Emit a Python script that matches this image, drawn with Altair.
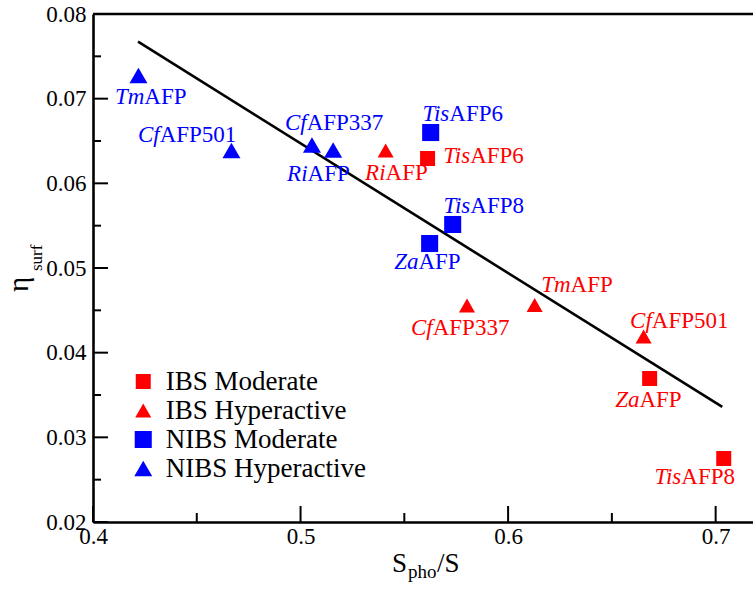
import altair as alt
import pandas as pd

# ---------------- data ----------------
series = ["NIBS Hyperactive", "NIBS Hyperactive", "NIBS Hyperactive", "NIBS Hyperactive",
          "NIBS Moderate", "NIBS Moderate", "NIBS Moderate",
          "IBS Hyperactive", "IBS Moderate", "IBS Hyperactive", "IBS Hyperactive",
          "IBS Hyperactive", "IBS Moderate", "IBS Moderate"]
s_pho = [0.4219, 0.4667, 0.5055, 0.5157, 0.5627, 0.5733, 0.5622,
         0.5410, 0.5612, 0.5802, 0.6128, 0.6653, 0.6682, 0.7039]
eta = [0.07274, 0.06388, 0.06453, 0.06394, 0.0660, 0.05514, 0.05289,
       0.06388, 0.06293, 0.04557, 0.04563, 0.04191, 0.03695, 0.02750]
name_italic = ["Tm", "Cf", "Cf", "Ri", "Tis", "Tis", "Za",
               "Ri", "Tis", "Cf", "Tm", "Cf", "Za", "Tis"]
name_roman = ["AFP", "AFP501", "AFP337", "AFP", "AFP6", "AFP8", "AFP",
              "AFP", "AFP6", "AFP337", "AFP", "AFP501", "AFP", "AFP8"]

fit_x = [0.4217, 0.7032]
fit_y = [0.07673, 0.03359]

x_ticks = [0.4, 0.5, 0.6, 0.7]
x_minor = [0.45, 0.55, 0.65]
y_ticks = [0.02, 0.03, 0.04, 0.05, 0.06, 0.07, 0.08]
y_minor = [0.025, 0.035, 0.045, 0.055, 0.065, 0.075]

legend_order = ["IBS Moderate", "IBS Hyperactive", "NIBS Moderate", "NIBS Hyperactive"]

# ---------------- style ----------------
FONT = "'Liberation Serif', 'Times New Roman', Times, serif"
RED = "#ff0000"
BLUE = "#0000ff"
W, H = 660, 508
LW = 2.6
# label placement: (dx of italic/roman split, dy of baseline) in pixels
label_offsets = [(5.9, 28.5), (-71.8, -8.5), (-5.3, -15), (-25.6, 31), (18.6, -11.8),
                 (17.6, -11.5), (-11.2, 25.5), (-0.1, 29.5), (42.6, 4.5), (-34.3, 29.5),
                 (35.9, -13), (8.2, -8.5), (-10.2, 28.5), (-42.4, 25.5)]

xscale = alt.Scale(domain=[0.4, 0.718], nice=False, zero=False)
yscale = alt.Scale(domain=[0.02, 0.08], nice=False, zero=False)
xaxis = alt.Axis(values=x_ticks, format=".1f", title=None, ticks=False, grid=False,
                 labelFont=FONT, labelFontSize=23, labelColor="black", labelPadding=3,
                 domainColor="black", domainWidth=LW, labelFlush=False, labelOverlap=False)
yaxis = alt.Axis(values=y_ticks, format=".2f", title=None, ticks=False, grid=False,
                 labelFont=FONT, labelFontSize=23, labelColor="black", labelPadding=7,
                 domainColor="black", domainWidth=LW, labelFlush=False, labelOverlap=False)


def X(f):
    return alt.X(f, type="quantitative", scale=xscale, axis=xaxis)


def Y(f):
    return alt.Y(f, type="quantitative", scale=yscale, axis=yaxis)


pts = pd.DataFrame({"x": s_pho, "y": eta, "series": series})

leg = alt.Legend(title=None, orient="none", legendX=36.75, legendY=354,
                 padding=0, rowPadding=1, labelOffset=9,
                 labelFont=FONT, labelFontSize=27, labelColor="black",
                 symbolSize=240, symbolStrokeWidth=0, labelLimit=400)

points = alt.Chart(pts).mark_point(filled=True, opacity=1, strokeWidth=0).encode(
    x=X("x"), y=Y("y"),
    color=alt.Color("series:N", scale=alt.Scale(domain=legend_order, range=[RED, RED, BLUE, BLUE]),
                    legend=leg),
    shape=alt.Shape("series:N", scale=alt.Scale(domain=legend_order,
                                                range=["square", "triangle-up", "square", "triangle-up"]),
                    legend=leg),
    size=alt.Size("series:N", scale=alt.Scale(domain=legend_order, range=[225, 324, 225, 324]),
                  legend=None),
)

fit = alt.Chart(pd.DataFrame({"x": fit_x, "y": fit_y})).mark_line(
    color="black", strokeWidth=LW).encode(x=X("x"), y=Y("y"))

# inward ticks
xt_major = alt.Chart(pd.DataFrame({"v": x_ticks})).mark_rule(color="black", strokeWidth=2).encode(
    x=X("v"), y=alt.value(H), y2=alt.value(H - 16))
xt_minor = alt.Chart(pd.DataFrame({"v": x_minor})).mark_rule(color="black", strokeWidth=2).encode(
    x=X("v"), y=alt.value(H), y2=alt.value(H - 9))
yt_major = alt.Chart(pd.DataFrame({"v": y_ticks})).mark_rule(color="black", strokeWidth=2).encode(
    y=Y("v"), x=alt.value(0), x2=alt.value(15))
yt_minor = alt.Chart(pd.DataFrame({"v": y_minor})).mark_rule(color="black", strokeWidth=2).encode(
    y=Y("v"), x=alt.value(0), x2=alt.value(8))
top = alt.Chart(pd.DataFrame({"v": [0]})).mark_rule(color="black", strokeWidth=LW).encode(
    x=alt.value(0), x2=alt.value(W), y=alt.value(0))

layers = [top, xt_major, xt_minor, yt_major, yt_minor, fit, points]

# point labels (italic genus abbreviation + roman remainder)
for i in range(len(s_pho)):
    col = BLUE if series[i].startswith("NIBS") else RED
    sdx, sdy = label_offsets[i]
    d = pd.DataFrame({"x": [s_pho[i]], "y": [eta[i]], "a": [name_italic[i]], "b": [name_roman[i]]})
    base = alt.Chart(d).encode(x=X("x"), y=Y("y"))
    layers.append(base.mark_text(align="right", baseline="alphabetic", dx=sdx, dy=sdy, font=FONT,
                                 fontSize=23, fontStyle="italic", color=col).encode(text="a:N"))
    layers.append(base.mark_text(align="left", baseline="alphabetic", dx=sdx, dy=sdy, font=FONT,
                                 fontSize=23, color=col).encode(text="b:N"))


# axis titles with subscripts
def txt(s, x, y, size, angle=0):
    m = alt.Chart(pd.DataFrame({"t": [s]})).mark_text(
        align="left", baseline="alphabetic", font=FONT, fontSize=size, color="black", angle=angle)
    return m.encode(text="t:N", x=alt.value(x), y=alt.value(y))


layers += [
    txt("S", 299, 558, 27),
    txt("pho", 315, 564, 19),
    txt("/S", 344, 558, 27),
    txt("η", -65, 278, 29, angle=270),
    txt("surf", -51, 257, 17, angle=270),
]

chart = alt.layer(*layers).properties(
    width=W, height=H,
    autosize=alt.AutoSizeParams(type="none"),
    padding={"left": 93, "top": 14, "right": 0, "bottom": 67},
).configure_view(stroke=None).configure(background="white")

chart.save("out.html", embed_options={"renderer": "svg", "actions": False})
